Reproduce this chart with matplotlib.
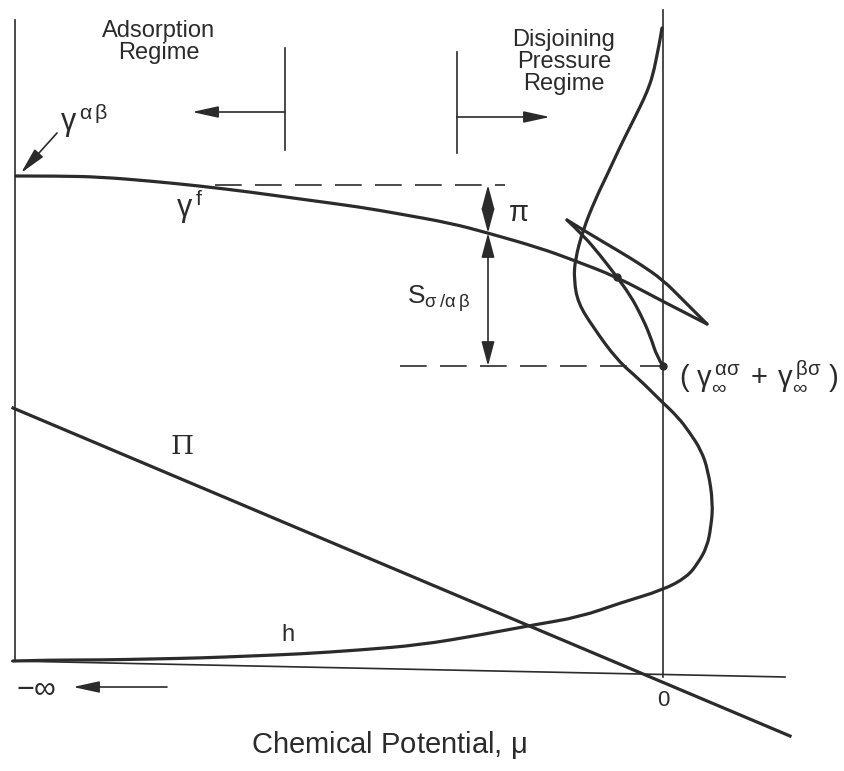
import matplotlib.pyplot as plt
from matplotlib.path import Path
from matplotlib.patches import PathPatch

plt.rcParams['font.family'] = ['Liberation Sans', 'DejaVu Sans']
plt.rcParams['mathtext.fontset'] = 'dejavusans'
plt.rcParams['mathtext.default'] = 'regular'

ink = "#2b2b2b"

# surface tension of the film, up to the tip of the swallowtail
gamma_f_x = [16, 60, 100, 150, 200, 250, 300, 360, 400, 450, 488, 540, 573, 617, 660, 707]
gamma_f_y = [176, 176, 177, 181, 186, 192, 199, 207, 214, 223, 233, 248, 260, 277, 300, 324]
# upper branch: tip back to the cusp
upper_x = [707, 683, 663, 640, 617, 583, 567]
upper_y = [324, 300, 280, 264, 250, 230, 220]
# lower branch: cusp down to the end point
lower_x = [567, 583, 600, 617, 630, 640, 650, 657, 663]
lower_y = [220, 235, 255, 277, 295, 313, 335, 357, 366]

# film thickness h, drawn from the top of the plot down to the -inf end
h_x = [662, 660, 658, 653, 647, 640, 630, 620, 608, 595, 583, 575, 574, 578, 593, 617, 640,
       660, 678, 690, 701, 708, 713, 711, 707, 698, 687, 663, 620, 580, 533, 480, 420, 360,
       300, 250, 200, 150, 100, 50, 13]
h_y = [28, 40, 50, 75, 92, 107, 127, 147, 173, 200, 230, 260, 280, 303, 327, 360, 380,
       400, 417, 433, 450, 470, 503, 527, 547, 563, 577, 590, 603, 617, 625, 635, 645, 650,
       654, 656, 658, 659, 660, 660, 661]

# disjoining pressure Pi
pi_x = [13, 790]
pi_y = [408, 736]

# axes of the sketch
left_axis_x = [15, 15]
left_axis_y = [20, 661]
zero_axis_x = [663, 663]
zero_axis_y = [10, 677]
mu_axis_x = [12, 785]
mu_axis_y = [661, 677]

# reference levels
gamma_ab_level = 185
gamma_inf_level = 366
arrow_x = 488
crossing_y = 233


def smooth_curve(ax, xs, ys, **kw):
    # quadratic bezier through the midpoints, the given points act as control points
    pts = list(zip(xs, ys))
    verts = [pts[0]]
    codes = [Path.MOVETO]
    for i in range(1, len(pts) - 1):
        mid = ((pts[i][0] + pts[i + 1][0]) / 2, (pts[i][1] + pts[i + 1][1]) / 2)
        if i == len(pts) - 2:
            mid = pts[-1]
        verts += [pts[i], mid]
        codes += [Path.CURVE3, Path.CURVE3]
    if len(pts) == 2:
        verts.append(pts[1])
        codes.append(Path.LINETO)
    ax.add_patch(PathPatch(Path(verts, codes), fill=False, capstyle='round',
                           joinstyle='round', **kw))


fig = plt.figure(figsize=(8.45, 7.71), dpi=100)
ax = fig.add_axes([0, 0, 1, 1])
ax.set_xlim(0, 845)
ax.set_ylim(771, 0)
ax.axis('off')

ax.plot(left_axis_x, left_axis_y, color=ink, lw=1.2)
ax.plot(zero_axis_x, zero_axis_y, color=ink, lw=1.2)
ax.plot(mu_axis_x, mu_axis_y, color=ink, lw=1.2)

curve = dict(edgecolor=ink, lw=2.3)
smooth_curve(ax, gamma_f_x, gamma_f_y, **curve)
smooth_curve(ax, upper_x, upper_y, **curve)
smooth_curve(ax, lower_x, lower_y, **curve)
smooth_curve(ax, h_x, h_y, **curve)
ax.plot(pi_x, pi_y, color=ink, lw=2.3)

# dashed guide levels
ax.plot([215, 505], [gamma_ab_level, gamma_ab_level], color=ink, lw=1.2, ls=(0, (16, 8)))
ax.plot([400, 663], [gamma_inf_level, gamma_inf_level], color=ink, lw=1.2, ls=(0, (16, 8)))

# marked points
ax.plot([617, 663], [277, gamma_inf_level], 'o', color=ink, ms=5)

# regime dividers and arrows
ax.plot([285, 285], [48, 150], color=ink, lw=1.2)
ax.plot([457, 457], [52, 153], color=ink, lw=1.2)

head = dict(arrowstyle='-|>,head_length=1.6,head_width=0.35', color=ink, lw=1.2,
            mutation_scale=10, shrinkA=0, shrinkB=0)
ax.annotate('', xy=(192, 112), xytext=(285, 112), arrowprops=head)
ax.annotate('', xy=(550, 117), xytext=(457, 117), arrowprops=head)
ax.annotate('', xy=(73, 687), xytext=(167, 687), arrowprops=head)
ax.annotate('', xy=(21, 173), xytext=(57, 133), arrowprops=head)

both = dict(arrowstyle='<|-|>,head_length=1.5,head_width=0.4', color=ink, lw=1.2,
            mutation_scale=10, shrinkA=0, shrinkB=0)
ax.annotate('', xy=(arrow_x, gamma_ab_level), xytext=(arrow_x, crossing_y), arrowprops=both)
ax.annotate('', xy=(arrow_x, crossing_y), xytext=(arrow_x, gamma_inf_level), arrowprops=both)

# labels
ax.text(159, 42, 'Adsorption\nRegime', ha='center', va='center', fontsize=17,
        color=ink, linespacing=0.95)
ax.text(564, 62, 'Disjoining\nPressure\nRegime', ha='center', va='center', fontsize=17,
        color=ink, linespacing=1.02)
ax.text(84, 120, r'$\gamma^{\,\alpha\,\beta}$', ha='center', va='center', fontsize=22, color=ink)
ax.text(189, 207, r'$\gamma^{\,f}$', ha='center', va='center', fontsize=22, color=ink)
ax.text(518, 213, r'$\pi$', ha='center', va='center', fontsize=21, color=ink)
ax.text(438, 299, r'S$_{\sigma\,/\alpha\,\beta}$', ha='center', va='center', fontsize=19, color=ink)
ax.text(759, 376,
        r'$(\;\gamma_{\infty}^{\,\alpha\sigma}\,+\,\gamma_{\infty}^{\,\beta\sigma}\;)$',
        ha='center', va='center', fontsize=21, color=ink)
ax.text(182, 447, 'Π', family='DejaVu Serif', ha='center', va='center', fontsize=19, color=ink)
ax.text(288, 635, 'h', ha='center', va='center', fontsize=17, color=ink)
ax.text(36, 688, r'$-\infty$', ha='center', va='center', fontsize=22, color=ink)
ax.text(663, 700, '0', ha='center', va='center', fontsize=16, color=ink)
ax.text(389, 745, r'Chemical Potential, $\mu$', ha='center', va='center', fontsize=21, color=ink)

fig.savefig('out.png', dpi=100)
